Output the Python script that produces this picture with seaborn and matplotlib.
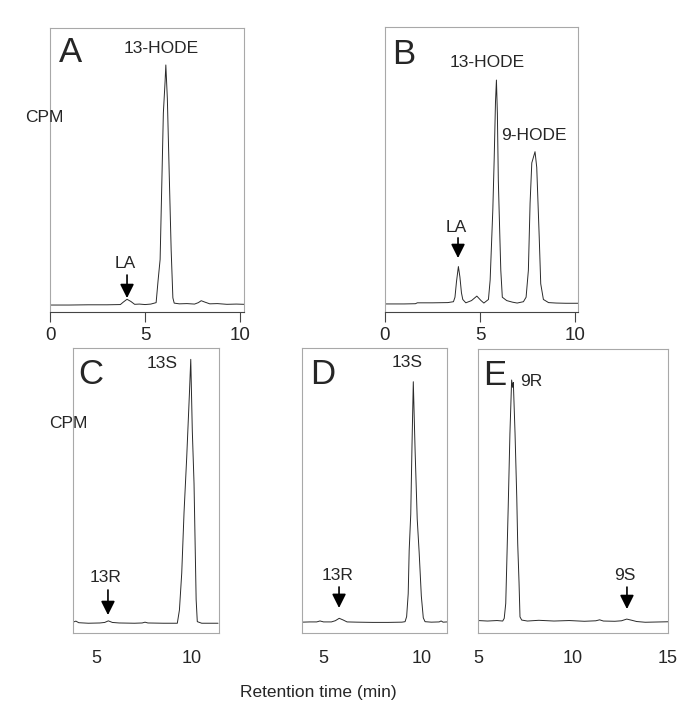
import numpy as np
import pandas as pd
import matplotlib
matplotlib.use("Agg")
import matplotlib.pyplot as plt
import seaborn as sns

# chromatogram traces (time in min, relative CPM)
A_time = [0, 1.0, 2.0, 3.0, 3.7, 3.85, 4.05, 4.25, 4.45, 4.7,
          5.0, 5.3, 5.58, 5.68, 5.79, 5.88, 5.96, 6.05, 6.09, 6.17,
          6.28, 6.37, 6.46, 6.53, 6.8, 7.2, 7.6, 7.8, 7.95, 8.15,
          8.4, 8.8, 9.3, 9.8, 10.2]
A_cpm = [0, 0, 0.1, 0.1, 0.2, 1.2, 2.4, 1.5, 0.3, 0.4,
         0.2, 0.4, 1, 10, 19, 51, 80, 93, 100, 86,
         51, 23, 3, 0.8, 0.5, 0.6, 0.4, 1.0, 1.8, 1.2,
         0.5, 0.6, 0.3, 0.4, 0.3]

B_time = [0, 1.0, 1.6, 1.7, 2.5, 3.3, 3.6, 3.68, 3.76, 3.86,
          3.94, 4.02, 4.09, 4.25, 4.55, 4.83, 5.05, 5.2, 5.44, 5.53,
          5.67, 5.74, 5.81, 5.86, 5.91, 5.96, 6.04, 6.09, 6.17, 6.4,
          6.7, 6.95, 7.28, 7.42, 7.54, 7.63, 7.72, 7.89, 7.98, 8.11,
          8.19, 8.33, 8.6, 9.0, 9.5, 10.15]
B_cpm = [0, 0, 0.1, 0.5, 0.5, 0.6, 1, 3, 10, 16.7,
         12, 5, 2, 0.5, 1.5, 3.5, 1.5, 0.4, 2, 10.7,
         42, 64, 90, 100, 85, 55, 30, 15, 3, 1.5,
         0.8, 0.4, 1, 3, 15, 45, 63, 68, 61, 30,
         9, 2, 0.6, 0.4, 0.3, 0.3]

C_time = [3.8, 3.95, 4.1, 4.6, 5.2, 5.45, 5.64, 5.85, 6.2, 7.0,
          7.4, 7.55, 7.7, 8.5, 9.0, 9.23, 9.34, 9.46, 9.58, 9.72,
          9.86, 9.93, 10.01, 10.10, 10.15, 10.21, 10.27, 10.5, 11.0, 11.35]
C_cpm = [0.4, 0.8, 0.2, 0, 0.1, 0.3, 0.9, 0.3, 0.1, 0,
         0.1, 0.4, 0.1, 0, 0, 0, 5, 19, 42, 63,
         87, 100, 73, 53, 33, 9, 0.6, 0, 0, 0]

D_time = [3.9, 4.3, 4.65, 4.82, 5.0, 5.4, 5.6, 5.8, 6.0, 6.2,
          6.7, 7.5, 8.3, 9.0, 9.16, 9.24, 9.32, 9.37, 9.45, 9.51,
          9.58, 9.67, 9.78, 9.88, 9.99, 10.09, 10.18, 10.5, 10.9, 11.0,
          11.1, 11.3]
D_cpm = [0.2, 0.3, 0.3, 0.7, 0.3, 0.3, 0.8, 1.8, 1.1, 0.3,
         0.2, 0.1, 0.1, 0.2, 0.4, 2.5, 12, 30, 45, 72,
         100, 72, 43, 29, 11, 2, 0.4, 0.2, 0.3, 0.7,
         0.2, 0.3]

E_time = [5.0, 5.5, 6.0, 6.3, 6.38, 6.46, 6.51, 6.59, 6.68, 6.77,
          6.82, 6.86, 6.95, 7.04, 7.09, 7.16, 7.21, 7.3, 7.6, 8.2,
          9.0, 9.8, 10.6, 11.2, 11.4, 11.6, 12.2, 12.55, 12.83, 13.1,
          13.35, 13.8, 14.4, 15.0]
E_cpm = [0.5, 0.3, 0.5, 0.3, 1.4, 7.5, 22.5, 47, 77, 99,
         96, 98, 77, 51, 32, 16, 2, 0.7, 0.3, 0.6,
         0.3, 0.5, 0.2, 0.4, 0.8, 0.3, 0.2, 0.4, 1.1, 0.6,
         0.1, -0.2, -0.1, 0]

panel_letters = ["A", "B", "C", "D", "E"]
x_ticks = [[0, 5, 10], [0, 5, 10], [5, 10], [5, 10], [5, 10, 15]]

# peak labels: (text, x, y) and arrows: (text, x, y_text, y_tail, y_head)
peak_labels = {
    "A": [("13-HODE", 5.84, 106.7)],
    "B": [("13-HODE", 5.37, 108), ("9-HODE", 7.84, 75.4)],
    "C": [("13S", 8.44, 98.6)],
    "D": [("13S", 9.26, 108)],
    "E": [("9R", 7.79, 98.2)],
}
arrow_labels = {
    "A": ("LA", 4.05, 17.5, 12.5, 2.9),
    "B": ("LA", 3.84, 34, 29.5, 20.5),
    "C": ("13R", 5.62, 17.2, 12.6, 3.1),
    "D": ("13R", 5.79, 19.6, 14.8, 6.1),
    "E": ("9S", 12.84, 19.1, 14.2, 5.2),
}

sns.set_style("white")
plt.rcParams['font.family'] = ['Liberation Sans', 'DejaVu Sans']

W, H = 699, 721
fig = plt.figure(figsize=(W / 100, H / 100), dpi=100)


def px_rect(left, top, right, bottom):
    return [left / W, 1 - bottom / H, (right - left) / W, (bottom - top) / H]


layout = {
    "A": dict(rect=px_rect(50, 28, 244, 312), xlim=(0, 10.2), ylim=(-2.9, 115.4),
              letter=(1.1, 105), top=True),
    "B": dict(rect=px_rect(385, 27, 578, 312), xlim=(0, 10.15), ylim=(-3.6, 123.7),
              letter=(1.0, 111.6), top=True),
    "C": dict(rect=px_rect(73, 348, 219, 633), xlim=(3.8, 11.4), ylim=(-3.7, 104.3),
              letter=(4.74, 94.4), top=False),
    "D": dict(rect=px_rect(302, 348, 447, 633), xlim=(3.9, 11.3), ylim=(-4.3, 114),
              letter=(4.95, 102.8), top=False),
    "E": dict(rect=px_rect(478, 349, 668, 633), xlim=(5, 15), ylim=(-4.6, 111.7),
              letter=(5.89, 100.7), top=False),
}

traces = {"A": (A_time, A_cpm), "B": (B_time, B_cpm), "C": (C_time, C_cpm),
          "D": (D_time, D_cpm), "E": (E_time, E_cpm)}

for key, ticks in zip(panel_letters, x_ticks):
    opt = layout[key]
    t, cpm = traces[key]
    df = pd.DataFrame({"time": t, "cpm": cpm})
    ax = fig.add_axes(opt["rect"])
    sns.lineplot(data=df, x="time", y="cpm", ax=ax, color="#2a2a2a",
                 linewidth=0.7, estimator=None, sort=False)
    ax.set_xlim(opt["xlim"])
    ax.set_ylim(opt["ylim"])
    ax.set_yticks([])
    ax.set_xticks(ticks)
    ax.set_xlabel("")
    ax.set_ylabel("")
    for s in ax.spines.values():
        s.set_color("#a8a8a8")
        s.set_linewidth(0.8)
    if opt["top"]:
        ax.spines["bottom"].set_color("#444444")
        ax.tick_params(axis="x", length=7, width=0.8, color="#444444",
                       labelsize=13.5, pad=4, direction="out", bottom=True)
    else:
        ax.tick_params(axis="x", length=0, labelsize=13, pad=12)

    ax.text(*opt["letter"], key, fontsize=25, ha="center", va="center")
    for s, x, y in peak_labels[key]:
        ax.text(x, y, s, fontsize=12.5, ha="center", va="center")
    s, x, yt, y0, y1 = arrow_labels[key]
    ax.text(x - 0.1, yt, s, fontsize=12.5, ha="center", va="center")
    ax.annotate("", xy=(x, y1), xytext=(x, y0),
                arrowprops=dict(arrowstyle="-|>,head_length=0.6,head_width=0.3",
                                color="black", lw=1.2, mutation_scale=14,
                                shrinkA=0, shrinkB=0))

fig.text(44 / W, 1 - 118 / H, "CPM", fontsize=12.5, ha="center", va="center")
fig.text(68 / W, 1 - 424 / H, "CPM", fontsize=12.5, ha="center", va="center")
fig.text(318 / W, 1 - 693 / H, "Retention time (min)", fontsize=12.5,
         ha="center", va="center")

fig.savefig("out.png", dpi=100)
